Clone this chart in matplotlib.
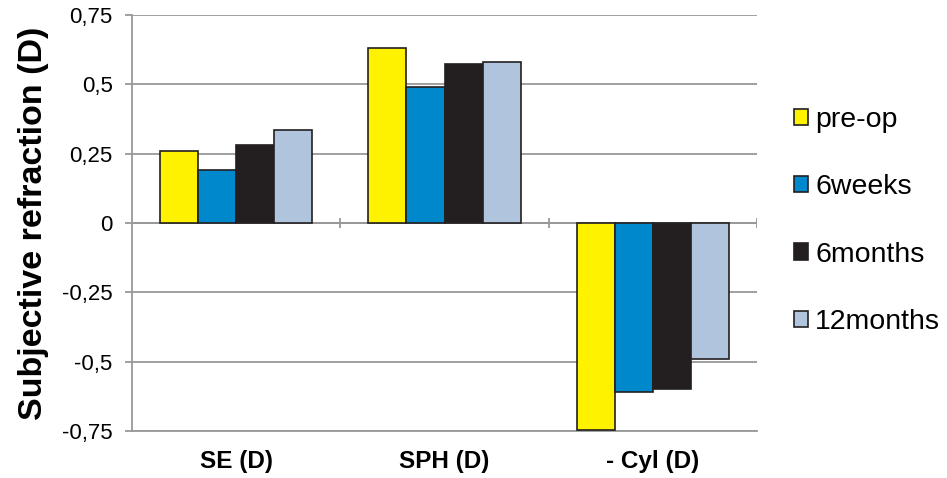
import matplotlib.pyplot as plt
import numpy as np

plt.rcParams['font.family'] = ['Liberation Sans', 'DejaVu Sans']

categories = ['SE (D)', 'SPH (D)', '- Cyl (D)']
series = ['pre-op', '6weeks', '6months', '12months']
pre_op = [0.26, 0.63, -0.745]
weeks6 = [0.19, 0.49, -0.61]
months6 = [0.28, 0.575, -0.60]
months12 = [0.335, 0.58, -0.49]
colors = ['#FFF200', '#0088CC', '#231F20', '#B0C4DE']
yticks = [-0.75, -0.5, -0.25, 0, 0.25, 0.5, 0.75]
ytick_labels = ['-0,75', '-0,5', '-0,25', '0', '0,25', '0,5', '0,75']

fig = plt.figure(figsize=(9.47, 4.78), dpi=100)
ax = fig.add_axes([0.1394, 0.0983, 0.66, 0.8703])

x = np.arange(len(categories))
w = 0.183
for i, (vals, c, name) in enumerate(zip([pre_op, weeks6, months6, months12], colors, series)):
    ax.bar(x + (i - 1.5) * w, vals, width=w, color=c, edgecolor='#231F20',
           linewidth=1.2, label=name, zorder=3)

ax.set_xlim(-0.5, len(categories) - 0.5)
ax.set_ylim(-0.75, 0.75)
ax.set_yticks(yticks)
ax.set_yticklabels(ytick_labels, fontsize=16)
ax.yaxis.grid(True, color='#999999', linewidth=1.3, zorder=0)
ax.set_axisbelow(True)

ax.set_xticks(x)
ax.set_xticklabels(categories, fontsize=17.5, fontweight='bold')
ax.tick_params(axis='x', length=0, pad=14)
ax.tick_params(axis='y', length=5, width=1.3, color='#999999', pad=9)

for s in ['top', 'right']:
    ax.spines[s].set_visible(False)
ax.spines['left'].set_color('#999999')
ax.spines['left'].set_linewidth(1.3)
ax.spines['bottom'].set_color('#999999')
ax.spines['bottom'].set_linewidth(1.3)

# zero line with category separators
ax.axhline(0, color='#999999', linewidth=1.3, zorder=2)
bounds = np.arange(len(categories) + 1) - 0.5
ax.vlines(bounds[1:], -0.018, 0.018, color='#999999', linewidth=1.3, zorder=2)

ax.set_ylabel('Subjective refraction (D)', fontsize=24.5, fontweight='bold', labelpad=9)

leg = ax.legend(loc='center left', bbox_to_anchor=(1.025, 0.505), frameon=False,
                fontsize=20.5, handlelength=0.5, handleheight=0.5,
                handletextpad=0.25, labelspacing=1.45, borderaxespad=0.35)

fig.savefig('out.png', dpi=100)
